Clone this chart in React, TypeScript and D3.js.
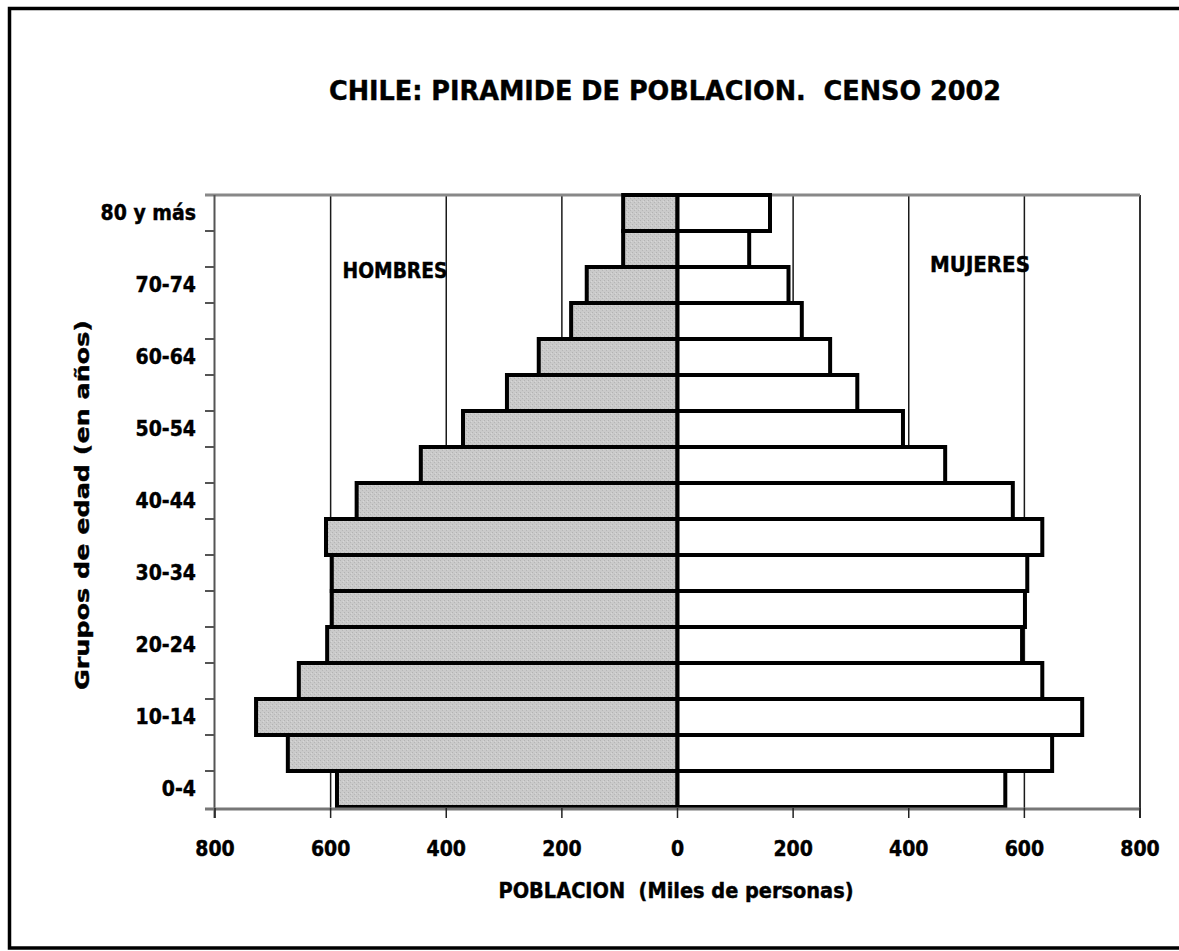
import React from 'react';
import * as d3 from 'd3';

const categories = ['0-4', '5-9', '10-14', '15-19', '20-24', '25-29', '30-34', '35-39', '40-44', '45-49', '50-54', '55-59', '60-64', '65-69', '70-74', '75-79', '80 y más'];
const hombres = [589, 674, 729, 655, 606, 598, 598, 608, 555, 444, 371, 295, 240, 184, 157, 94, 94];
const mujeres = [567, 648, 700, 631, 596, 601, 605, 631, 580, 463, 390, 311, 264, 215, 192, 124, 160];
const xTicks = [-800, -600, -400, -200, 0, 200, 400, 600, 800];
const gridValues = [-600, -400, -200, 200, 400, 600];
const yLabelEvery = 2;
const title = 'CHILE: PIRAMIDE DE POBLACION.  CENSO 2002';
const xTitle = 'POBLACION  (Miles de personas)';
const yTitle = 'Grupos de edad (en años)';
const leftLabel = 'HOMBRES';
const rightLabel = 'MUJERES';

const W = 1179;
const H = 951;
const cond = "'DejaVu Sans Condensed', 'DejaVu Sans', sans-serif";
const heavy = { stroke: '#000', strokeWidth: 0.4 } as const;

export default function App() {
  const x = d3.scaleLinear().domain([-800, 800]).range([215, 1140]);
  const y = d3.scaleBand<string>().domain(categories.slice().reverse()).range([195, 807]).padding(0);
  const bw = y.bandwidth();
  const top = 195;
  const bottom = 808;
  const boundaries = categories.slice(0, categories.length - 1).map((c) => (y(c) as number));

  return (
    <svg width={W} height={H} style={{ position: 'absolute', left: 0, top: 0, background: '#fff' }}>
      <defs>
        <pattern id="stip" width="4" height="4" patternUnits="userSpaceOnUse">
          <rect width="4" height="4" fill="#cacaca" />
          <rect x="0" y="0" width="1" height="1" fill="#b2b2b2" />
          <rect x="2" y="2" width="1" height="1" fill="#b6b6b6" />
          <rect x="3" y="1" width="1" height="1" fill="#d8d8d8" />
        </pattern>
      </defs>
      <rect x={0} y={0} width={W} height={H} fill="#fff" />
      <rect x={9.5} y={8.5} width={1200} height={939.5} fill="none" stroke="#000" strokeWidth={3.5} />

      <text x={665} y={100} fontFamily={cond} fontStretch="condensed" fontWeight="bold" fontSize={27} {...heavy}
        textAnchor="middle" textLength={672} lengthAdjust="spacingAndGlyphs" style={{ whiteSpace: 'pre' }}>{title}</text>

      {gridValues.map((v) => (
        <line key={'g' + v} x1={x(v)} x2={x(v)} y1={top} y2={bottom} stroke="#1a1a1a" strokeWidth={1.5} />
      ))}
      <line x1={x(800)} x2={x(800)} y1={top} y2={bottom + 10} stroke="#333" strokeWidth={2} />
      <line x1={205} x2={x(800)} y1={top} y2={top} stroke="#888" strokeWidth={3} />
      <line x1={214.5} x2={214.5} y1={top} y2={bottom + 10} stroke="#555" strokeWidth={2} />
      {boundaries.map((b, i) => (
        <line key={'yt' + i} x1={205} x2={214} y1={b} y2={b} stroke="#555" strokeWidth={2} />
      ))}

      <text x={395} y={278} fontFamily={cond} fontStretch="condensed" fontWeight="bold" fontSize={21} {...heavy}
        textAnchor="middle" textLength={105} lengthAdjust="spacingAndGlyphs">{leftLabel}</text>
      <text x={980} y={272} fontFamily={cond} fontStretch="condensed" fontWeight="bold" fontSize={21} {...heavy}
        textAnchor="middle" textLength={100} lengthAdjust="spacingAndGlyphs">{rightLabel}</text>

      {categories.map((c, i) => (
        <rect key={'h' + c} x={x(-hombres[i])} y={y(c)} width={x(0) - x(-hombres[i])} height={bw}
          fill="url(#stip)" stroke="#000" strokeWidth={4} />
      ))}
      {categories.map((c, i) => (
        <rect key={'m' + c} x={x(0)} y={y(c)} width={x(mujeres[i]) - x(0)} height={bw}
          fill="#fff" stroke="#000" strokeWidth={4} />
      ))}

      <line x1={205} x2={x(800)} y1={bottom + 1} y2={bottom + 1} stroke="#777" strokeWidth={3} />
      {xTicks.map((v) => (
        <line key={'xt' + v} x1={x(v)} x2={x(v)} y1={bottom} y2={bottom + 10} stroke="#222" strokeWidth={1.5} />
      ))}
      {xTicks.map((v) => (
        <text key={'xl' + v} x={x(v)} y={856} fontFamily={cond} fontStretch="condensed" fontWeight="bold" {...heavy}
          fontSize={21} textAnchor="middle">{Math.abs(v)}</text>
      ))}

      {categories.map((c, i) => i % yLabelEvery === 0 ? (
        <text key={'yl' + c} x={196} y={(y(c) as number) + bw / 2 + 7} fontFamily={cond} fontStretch="condensed"
          fontWeight="bold" fontSize={21} textAnchor="end" {...heavy}>{c}</text>
      ) : null)}

      <text x={676} y={898} fontFamily={cond} fontStretch="condensed" fontWeight="bold" fontSize={21} {...heavy}
        textAnchor="middle" textLength={355} lengthAdjust="spacingAndGlyphs" style={{ whiteSpace: 'pre' }}>{xTitle}</text>

      <text transform="translate(89,505) rotate(-90)" fontFamily="'DejaVu Sans', sans-serif" fontWeight="bold" fontSize={19}
        textAnchor="middle" textLength={370} lengthAdjust="spacingAndGlyphs" {...heavy}>{yTitle}</text>
    </svg>
  );
}
